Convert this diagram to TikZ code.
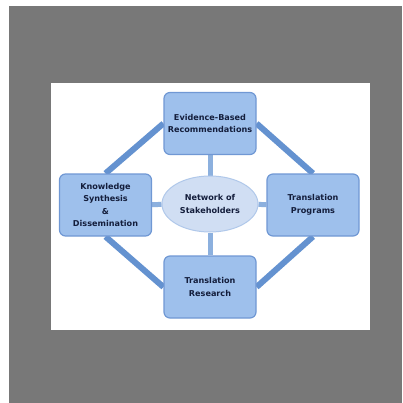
\documentclass[tikz,border=0pt]{standalone}
\usepackage{fontspec}
\setmainfont{DejaVu Sans}
\usetikzlibrary{backgrounds,shapes.geometric}
\definecolor{boxfill}{RGB}{158,192,236}
\definecolor{boxline}{RGB}{112,152,212}
\definecolor{linkblue}{RGB}{100,146,208}
\definecolor{spoke}{RGB}{140,176,222}
\definecolor{ovalfill}{RGB}{208,222,243}
\definecolor{ovalline}{RGB}{176,200,234}
\definecolor{txt}{RGB}{20,30,60}
\begin{document}
\begin{tikzpicture}[x=1pt,y=-1pt,
box/.style={draw=boxline,line width=1.2pt,fill=boxfill,rounded corners=6pt,minimum width=92pt,minimum height=62pt,inner sep=0pt,align=center,font=\bfseries\fontsize{8.1}{12.5}\selectfont,text=txt},
oval/.style={ellipse,draw=ovalline,line width=1pt,fill=ovalfill,minimum width=96pt,minimum height=56pt,inner sep=0pt,align=center,font=\bfseries\fontsize{8.1}{12.5}\selectfont,text=txt},
link/.style={draw=linkblue,line width=6pt},
spk/.style={draw=spoke,line width=5pt}]
\useasboundingbox (0,0) rectangle (402,403);
\begin{scope}[on background layer]
\fill[white] (0,0) rectangle (402,403);
\fill[black!53] (9,6) rectangle (402,403);
\fill[white] (51,83) rectangle (370,330);
\end{scope}
\node[box] (ebr) at (210,123.5) {Evidence-Based\\Recommendations};
\node[box] (ksd) at (105.5,205) {Knowledge\\Synthesis\\\&\\Dissemination};
\node[box] (tp) at (313,205) {Translation\\Programs};
\node[box] (tr) at (210,287) {Translation\\Research};
\node[oval] (net) at (210,204) {Network of\\Stakeholders};
\begin{scope}[on background layer]
\draw[link] (ebr.west) -- (ksd.north);
\draw[link] (ebr.east) -- (tp.north);
\draw[link] (tr.west) -- (ksd.south);
\draw[link] (tr.east) -- (tp.south);
\draw[spk] (net) -- (ebr); \draw[spk] (net) -- (ksd);
\draw[spk] (net) -- (tp); \draw[spk] (net) -- (tr);
\end{scope}
\end{tikzpicture}
\end{document}
